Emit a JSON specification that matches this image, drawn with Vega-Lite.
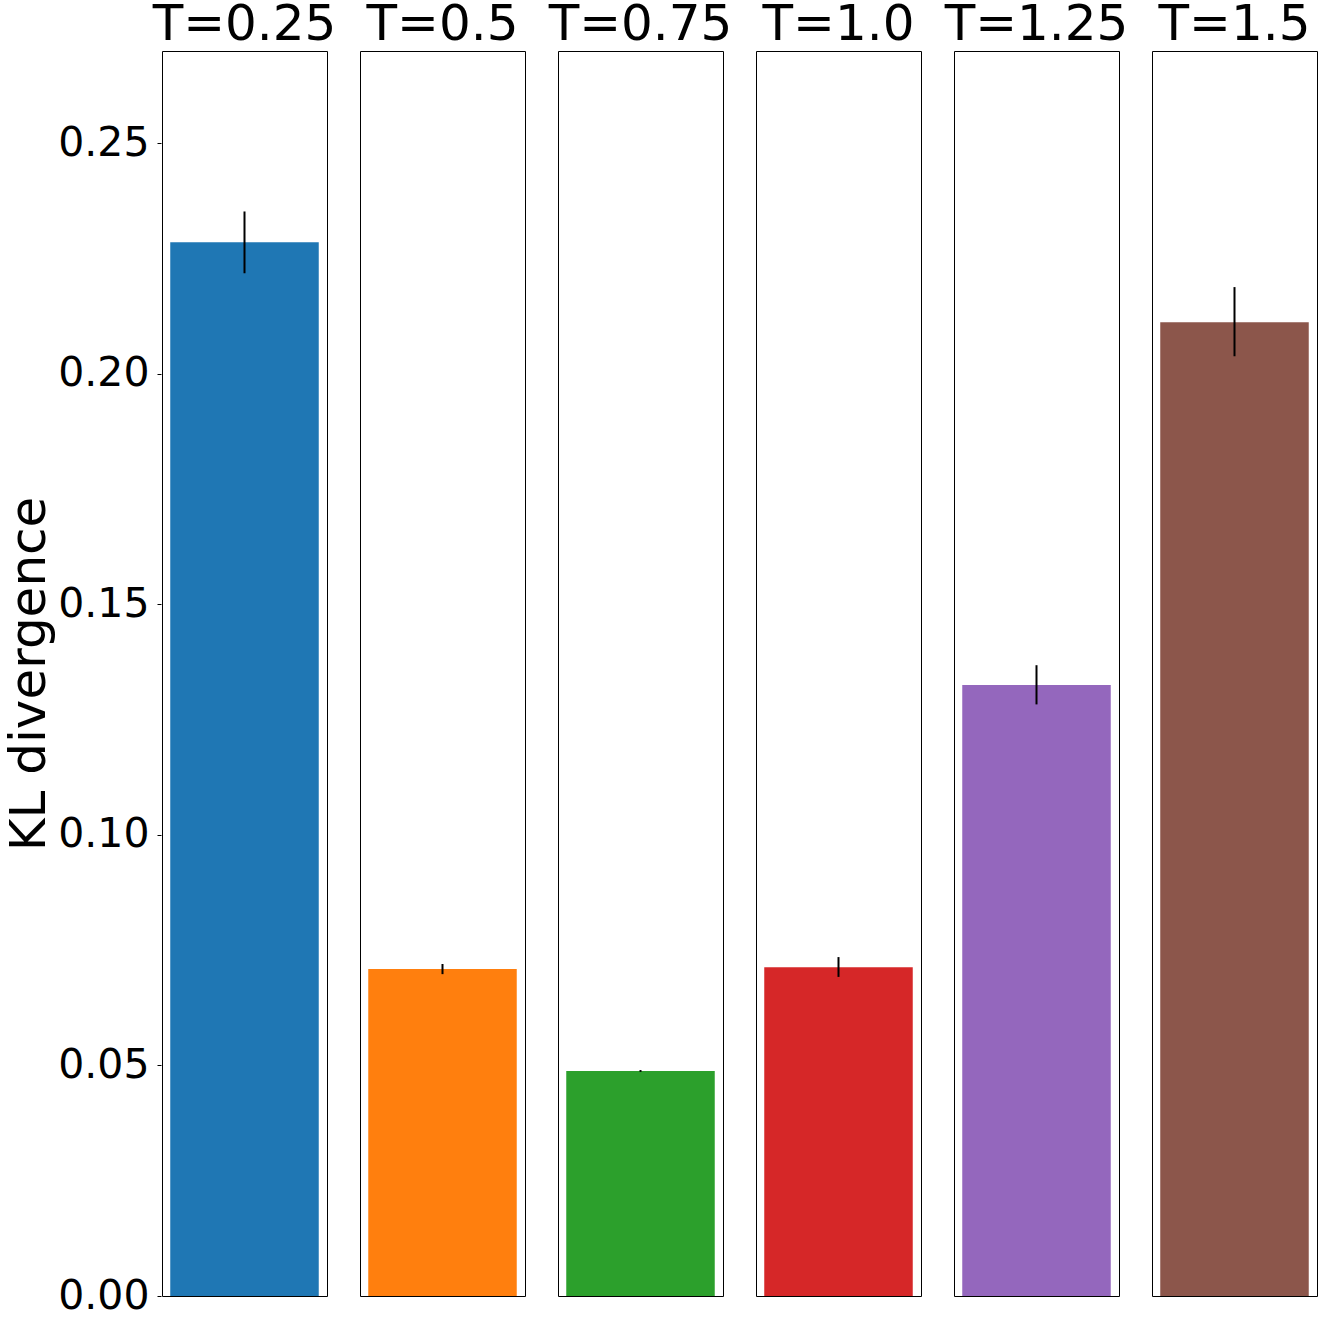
{
  "$schema": "https://vega.github.io/schema/vega-lite/v6.json",
  "padding": {"left": 4, "top": 0, "right": 0, "bottom": 0},
  "background": "white",
  "data": {
    "values": [
      {"T": "T=0.25", "order": 1, "kl": 0.2285, "lo": 0.2218, "hi": 0.2352},
      {"T": "T=0.5", "order": 2, "kl": 0.0709, "lo": 0.0698, "hi": 0.0720},
      {"T": "T=0.75", "order": 3, "kl": 0.0488, "lo": 0.0486, "hi": 0.0490},
      {"T": "T=1.0", "order": 4, "kl": 0.0713, "lo": 0.0692, "hi": 0.0735},
      {"T": "T=1.25", "order": 5, "kl": 0.1325, "lo": 0.1283, "hi": 0.1368},
      {"T": "T=1.5", "order": 6, "kl": 0.2112, "lo": 0.2038, "hi": 0.2188}
    ]
  },
  "facet": {
    "column": {
      "field": "T",
      "type": "nominal",
      "sort": {"field": "order"},
      "header": {
        "title": null,
        "labelFontSize": 50,
        "labelFont": "DejaVu Sans",
        "labelColor": "black",
        "labelPadding": 0
      }
    }
  },
  "spacing": 31,
  "spec": {
    "width": 165,
    "height": 1245,
    "encoding": {
      "x": {
        "field": "T",
        "type": "nominal",
        "axis": null,
        "scale": {"type": "band", "paddingInner": 0.1, "paddingOuter": 0.05}
      }
    },
    "layer": [
      {
        "mark": {"type": "bar"},
        "encoding": {
          "y": {
            "field": "kl",
            "type": "quantitative",
            "title": "KL divergence",
            "scale": {"domain": [0, 0.27], "nice": false, "zero": true},
            "axis": {
              "values": [0, 0.05, 0.1, 0.15, 0.2, 0.25],
              "format": ".2f",
              "grid": false,
              "domain": false,
              "tickSize": 4,
              "tickColor": "black",
              "labelFontSize": 41,
              "labelFont": "DejaVu Sans",
              "labelColor": "black",
              "labelPadding": 8,
              "titleFontSize": 50,
              "titleFont": "DejaVu Sans",
              "titleFontWeight": "normal",
              "titleColor": "black",
              "titlePadding": 3
            }
          },
          "color": {
            "field": "T",
            "type": "nominal",
            "legend": null,
            "scale": {
              "domain": ["T=0.25", "T=0.5", "T=0.75", "T=1.0", "T=1.25", "T=1.5"],
              "range": ["#1f77b4", "#ff7f0e", "#2ca02c", "#d62728", "#9467bd", "#8c564b"]
            }
          }
        }
      },
      {
        "mark": {"type": "rule", "color": "black", "strokeWidth": 2},
        "encoding": {
          "y": {"field": "lo", "type": "quantitative"},
          "y2": {"field": "hi"}
        }
      }
    ]
  },
  "resolve": {"scale": {"x": "independent"}},
  "config": {
    "view": {"stroke": "black", "strokeWidth": 1}
  }
}
